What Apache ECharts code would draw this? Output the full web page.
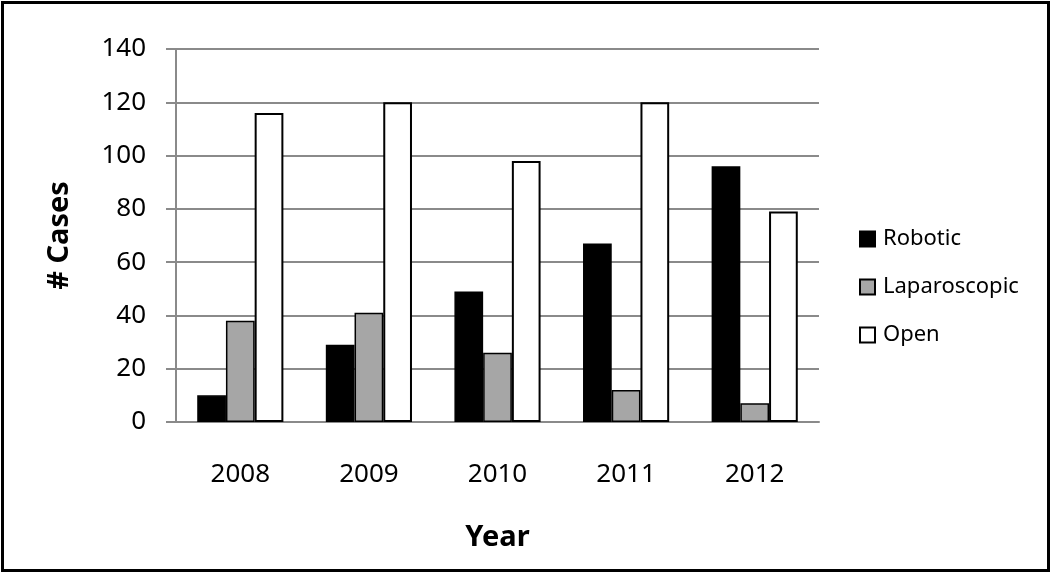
<!DOCTYPE html>
<html>
<head>
<meta charset="utf-8">
<script src="https://cdn.jsdelivr.net/npm/echarts@6/dist/echarts.min.js"></script>
<style>
html,body{margin:0;padding:0;background:#fff;}
#chart{width:1050px;height:572px;}
</style>
</head>
<body>
<div id="chart"></div>
<script>
var years = ['2008', '2009', '2010', '2011', '2012'];
var robotic = [10, 29, 49, 67, 96];
var laparoscopic = [38, 41, 26, 12, 7];
var open = [116, 120, 98, 120, 79];
var yTicks = [0, 20, 40, 60, 80, 100, 120, 140];

var FONT = 'Noto Sans';
var chart = echarts.init(document.getElementById('chart'), null, {renderer: 'canvas'});

chart.setOption({
  backgroundColor: '#ffffff',
  animation: false,
  textStyle: {fontFamily: FONT, color: '#000'},
  grid: {left: 176, right: 231, top: 49, bottom: 150, containLabel: false},
  legend: {
    orient: 'vertical',
    left: 859,
    top: 228,
    padding: 0,
    itemWidth: 15,
    itemHeight: 15,
    itemGap: 26,
    icon: 'rect',
    textStyle: {fontFamily: FONT, fontSize: 22, color: '#000', padding: [0, 0, 0, 3]},
    data: ['Robotic', 'Laparoscopic', 'Open']
  },
  xAxis: {
    type: 'category',
    data: years,
    name: 'Year',
    nameLocation: 'middle',
    nameGap: 101,
    nameTextStyle: {fontFamily: FONT, fontSize: 29, fontWeight: 'bold', color: '#000'},
    axisLine: {show: true, lineStyle: {color: '#8a8a8a', width: 2}},
    axisTick: {show: false},
    axisLabel: {fontFamily: FONT, fontSize: 26, color: '#000', margin: 40}
  },
  yAxis: {
    type: 'value',
    min: yTicks[0],
    max: yTicks[yTicks.length - 1],
    interval: 20,
    name: '# Cases',
    nameLocation: 'middle',
    nameRotate: 90,
    nameGap: 102,
    nameTextStyle: {fontFamily: FONT, fontSize: 29, fontWeight: 'bold', color: '#000'},
    axisLine: {show: true, lineStyle: {color: '#8a8a8a', width: 2}},
    axisTick: {show: true, inside: false, length: 10, lineStyle: {color: '#8a8a8a', width: 2}},
    axisLabel: {fontFamily: FONT, fontSize: 26, color: '#000', margin: 30},
    splitLine: {show: true, lineStyle: {color: '#8a8a8a', width: 2}}
  },
  series: [
    {
      name: 'Robotic', type: 'bar', data: robotic,
      barGap: '0%', barCategoryGap: '33%',
      itemStyle: {color: '#000000', borderColor: '#000000', borderWidth: 1.5}
    },
    {
      name: 'Laparoscopic', type: 'bar', data: laparoscopic,
      barGap: '0%', barCategoryGap: '33%',
      itemStyle: {color: '#a6a6a6', borderColor: '#000000', borderWidth: 1.5}
    },
    {
      name: 'Open', type: 'bar', data: open,
      barGap: '0%', barCategoryGap: '33%',
      itemStyle: {color: '#ffffff', borderColor: '#000000', borderWidth: 2}
    }
  ],
  graphic: [{
    type: 'rect',
    left: 0, top: 0,
    shape: {x: 1.5, y: 1.5, width: 1046, height: 568},
    style: {fill: 'none', stroke: '#000', lineWidth: 3},
    silent: true, z: 100
  }]
});
</script>
</body>
</html>
